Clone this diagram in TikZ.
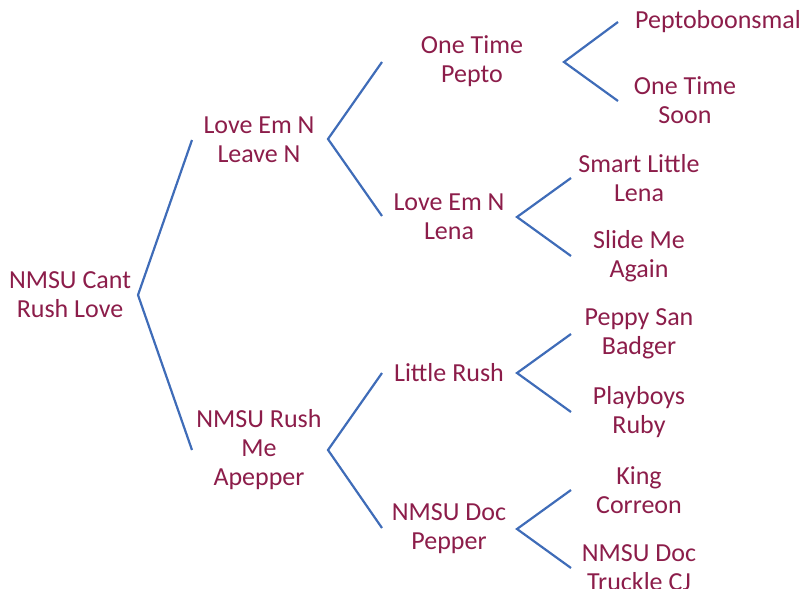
\documentclass[tikz,border=0pt]{standalone}
\usepackage{fontspec}
\setmainfont{Carlito}
\definecolor{txt}{HTML}{8C1D4A}
\definecolor{ln}{HTML}{3F6CB8}
\begin{document}
\begin{tikzpicture}[x=1pt,y=-1pt,
  horse/.style={text=txt,align=center,inner sep=0pt,font=\fontsize{26}{29}\selectfont},
  link/.style={draw=ln,line width=2.2pt}]
\useasboundingbox (0,0) rectangle (804,589);
\clip (0,0) rectangle (804,589);
% nodes
\node[horse] (root) at (70,295) {NMSU Cant\\Rush Love};
\node[horse] (s) at (259,140) {Love Em N\\Leave N};
\node[horse] (d) at (259,450) {NMSU Rush\\Me\\Apepper};
\node[horse] (ss) at (472,61) {One Time\\Pepto};
\node[horse] (sd) at (449,217) {Love Em N\\Lena};
\node[horse] (ds) at (449,373) {Little Rush};
\node[horse] (dd) at (449,529) {NMSU Doc\\Pepper};
\node[horse] (sss) at (718,22) {Peptoboonsmal};
\node[horse] (ssd) at (685,100) {One Time\\Soon};
\node[horse] (sds) at (639,178) {Smart Little\\Lena};
\node[horse] (sdd) at (639,256) {Slide Me\\Again};
\node[horse] (dss) at (639,334) {Peppy San\\Badger};
\node[horse] (dsd) at (639,412) {Playboys\\Ruby};
\node[horse] (dds) at (639,490) {King\\Correon};
\node[horse] (ddd) at (639,568) {NMSU Doc\\Truckle CJ};
% connector points
\coordinate (v0) at (138,295);
\coordinate (v0a) at (192,140);
\coordinate (v0b) at (192,450);
\coordinate (v1) at (328,139);
\coordinate (v1a) at (382,62);
\coordinate (v1b) at (382,216);
\coordinate (v2) at (328,450);
\coordinate (v2a) at (382,373);
\coordinate (v2b) at (382,528);
\coordinate (v3) at (564,62);
\coordinate (v3a) at (618,22);
\coordinate (v3b) at (618,101);
\coordinate (v4) at (517,217);
\coordinate (v4a) at (571,178);
\coordinate (v4b) at (571,256);
\coordinate (v5) at (517,373);
\coordinate (v5a) at (571,334);
\coordinate (v5b) at (571,412);
\coordinate (v6) at (517,529);
\coordinate (v6a) at (571,490);
\coordinate (v6b) at (571,568);
% connectors
\draw[link] (v0a) -- (v0) -- (v0b);
\draw[link] (v1a) -- (v1) -- (v1b);
\draw[link] (v2a) -- (v2) -- (v2b);
\draw[link] (v3a) -- (v3) -- (v3b);
\draw[link] (v4a) -- (v4) -- (v4b);
\draw[link] (v5a) -- (v5) -- (v5b);
\draw[link] (v6a) -- (v6) -- (v6b);
\end{tikzpicture}
\end{document}
